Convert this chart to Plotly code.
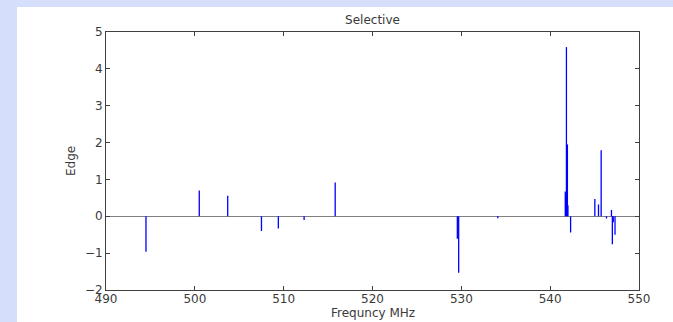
import plotly.graph_objects as go

# Stem data (frequency in MHz, edge value)
freq = [494.5, 500.5, 503.7, 507.5, 509.4, 512.3, 515.8,
        529.55, 529.7, 534.1,
        541.7, 541.75, 541.83, 541.94, 542.0, 542.3,
        545.03, 545.44, 545.74, 546.34, 546.9, 547.0, 547.1, 547.3]
edge = [-0.96, 0.70, 0.56, -0.40, -0.33, -0.10, 0.92,
        -0.61, -1.53, -0.05,
        0.67, 0.60, 4.59, 1.95, 0.30, -0.44,
        0.47, 0.32, 1.79, -0.06, 0.17, -0.76, -0.16, -0.50]

x_ticks = [490, 500, 510, 520, 530, 540, 550]
y_ticks = [-2, -1, 0, 1, 2, 3, 4, 5]

xs, ys = [], []
for f, e in zip(freq, edge):
    xs += [f, f, None]
    ys += [0, e, None]

fig = go.Figure()
fig.add_trace(go.Scatter(x=xs, y=ys, mode="lines",
                         line=dict(color="#0000ff", width=1.3),
                         hoverinfo="skip", showlegend=False))

W, H = 673, 322
L, R, T, B = 106, 34, 32, 32
pw, ph = W - L - R, H - T - B
blue = "#d5dffc"

# light-blue slide border strips (top and left) around a white panel
fig.add_shape(type="rect", xref="paper", yref="paper", layer="below",
              x0=-L / pw, x1=(W - L) / pw,
              y0=(H - T - 7) / ph, y1=(H - T) / ph,
              fillcolor=blue, line=dict(width=0))
fig.add_shape(type="rect", xref="paper", yref="paper", layer="below",
              x0=-L / pw, x1=(17 - L) / pw,
              y0=-B / ph, y1=(H - T) / ph,
              fillcolor=blue, line=dict(width=0))

font = dict(family="DejaVu Sans", size=12, color="#3a3a3a")
axis_common = dict(showline=True, mirror="ticks", ticks="inside", ticklen=4,
                   linecolor="#404040", tickcolor="#404040", linewidth=1,
                   showgrid=False, tickfont=font, automargin=False)

fig.update_layout(
    width=W, height=H,
    margin=dict(l=L, r=R, t=T, b=B, pad=0),
    paper_bgcolor="white", plot_bgcolor="white",
    title=dict(text="Selective", x=(L + pw / 2) / W, xanchor="center",
               y=1 - 20 / H, yanchor="middle", yref="container", font=font),
    xaxis=dict(range=[490, 550], tickvals=x_ticks, zeroline=False,
               ticklabelstandoff=-2, **axis_common),
    yaxis=dict(range=[-2, 5], tickvals=y_ticks, zeroline=True,
               zerolinecolor="#808080", zerolinewidth=1,
               **axis_common),
)

# axis titles placed at the reference positions
fig.add_annotation(text="Frequncy MHz", xref="paper", yref="paper",
                   x=0.5, y=-(313 - (H - B)) / ph, xanchor="center",
                   yanchor="middle", showarrow=False, font=font)
fig.add_annotation(text="Edge", xref="paper", yref="paper", textangle=-90,
                   x=-(L - 71) / pw, y=(H - B - 161) / ph, xanchor="center",
                   yanchor="middle", showarrow=False, font=font)

fig.write_html("out.html")
